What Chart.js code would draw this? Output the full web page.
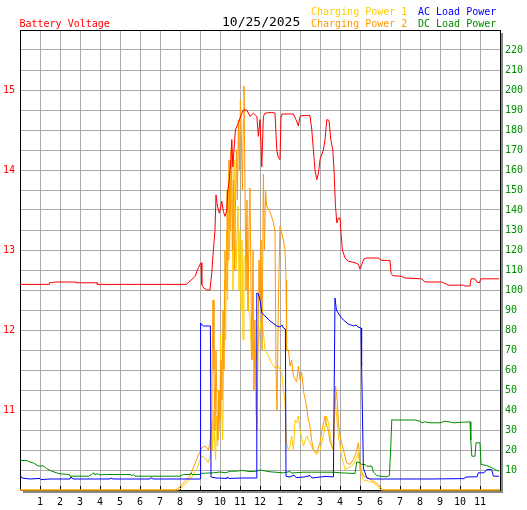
<!DOCTYPE html>
<html>
<head>
<meta charset="utf-8">
<script src="https://cdn.jsdelivr.net/npm/chart.js@4.4.1/dist/chart.umd.min.js"></script>
<style>
  html, body { margin: 0; padding: 0; background: #fff; }
  #wrap { width: 527px; height: 510px; }
</style>
</head>
<body>
<div id="wrap"><canvas id="chart" width="527" height="510"></canvas></div>
<script>
// hour of day -> value
const hourLabels = ['', '1', '2', '3', '4', '5', '6', '7', '8', '9', '10', '11', '12',
    '1', '2', '3', '4', '5', '6', '7', '8', '9', '10', '11', ''];

const batteryVoltage = [[0, 12.57], [1.45, 12.57], [1.47, 12.59], [1.8, 12.6], [2.8, 12.6], [2.82, 12.59],
    [3.85, 12.59], [3.87, 12.57], [8.3, 12.57], [8.5, 12.61], [8.75, 12.67], [8.92, 12.78], [9.05, 12.84],
    [9.09, 12.57], [9.17, 12.53], [9.34, 12.5], [9.5, 12.5], [9.59, 12.72], [9.67, 13.0], [9.75, 13.25],
    [9.8, 13.69], [9.87, 13.55], [9.97, 13.46], [10.09, 13.61], [10.17, 13.48], [10.25, 13.42], [10.34, 13.5],
    [10.39, 13.75], [10.47, 13.88], [10.54, 14.13], [10.59, 14.38], [10.64, 14.04], [10.7, 14.25], [10.77, 14.5],
    [10.92, 14.59], [11.09, 14.71], [11.17, 14.75], [11.34, 14.75], [11.5, 14.67], [11.67, 14.71], [11.84, 14.67],
    [11.92, 14.42], [12.0, 14.63], [12.09, 14.04], [12.17, 14.67], [12.25, 14.71], [12.59, 14.72], [12.75, 14.71],
    [12.84, 14.25], [12.92, 14.15], [13.0, 14.13], [13.05, 14.67], [13.09, 14.7], [13.67, 14.7], [13.8, 14.63],
    [13.92, 14.55], [14.0, 14.67], [14.09, 14.68], [14.5, 14.68], [14.59, 14.5], [14.67, 14.25], [14.75, 14.0],
    [14.84, 13.88], [14.92, 13.96], [15.0, 14.13], [15.17, 14.25], [15.25, 14.38], [15.34, 14.63], [15.45, 14.62],
    [15.54, 14.38], [15.64, 14.25], [15.7, 14.0], [15.77, 13.57], [15.84, 13.34], [15.92, 13.4], [16.0, 13.4],
    [16.05, 13.21], [16.12, 13.0], [16.25, 12.9], [16.42, 12.86], [16.75, 12.84], [16.92, 12.82], [17.0, 12.76],
    [17.09, 12.82], [17.2, 12.89], [17.34, 12.9], [17.92, 12.9], [18.09, 12.87], [18.5, 12.87], [18.55, 12.71],
    [18.64, 12.68], [19.09, 12.67], [19.25, 12.65], [20.09, 12.64], [20.25, 12.6], [21.09, 12.6], [21.42, 12.56],
    [22.17, 12.56], [22.25, 12.55], [22.5, 12.55], [22.55, 12.64], [22.75, 12.64], [22.84, 12.6], [22.97, 12.59],
    [23.04, 12.64], [23.95, 12.64]];

const chargingPower1 = [[0, 0], [7.9, 0], [8.0, 0.5], [8.5, 5.25], [8.83, 10.25], [9.08, 17], [9.25, 16],
    [9.42, 13.6], [9.53, 18.6], [9.58, 35], [9.63, 20], [9.68, 40], [9.73, 25], [9.78, 15], [9.83, 37],
    [9.88, 22], [9.93, 50], [9.98, 30], [10.03, 78], [10.08, 45], [10.13, 25], [10.18, 60], [10.23, 105],
    [10.28, 75], [10.33, 130], [10.38, 95], [10.43, 160], [10.48, 120], [10.55, 170], [10.6, 140], [10.65, 100],
    [10.7, 165], [10.75, 130], [10.8, 110], [10.9, 142], [10.95, 100], [11.0, 130], [11.05, 90], [11.1, 125],
    [11.15, 75], [11.2, 115], [11.33, 120], [11.42, 90], [11.5, 87], [11.58, 65], [11.67, 75], [11.75, 62],
    [11.92, 73.6], [12.08, 87], [12.17, 78.6], [12.25, 70], [12.42, 67], [12.58, 63.6], [12.75, 61], [12.92, 62],
    [13.08, 58.6], [13.25, 43.6], [13.33, 23.6], [13.42, 20], [13.5, 22], [13.58, 27], [13.67, 20], [13.75, 35],
    [13.83, 33.6], [13.92, 37], [14.0, 30], [14.17, 22], [14.33, 27], [14.5, 23.6], [14.67, 20], [14.83, 17.75],
    [15.0, 20], [15.17, 27], [15.33, 37], [15.42, 33.6], [15.58, 23.6], [15.67, 20], [15.75, 47], [15.83, 37],
    [15.92, 27], [16.08, 17], [16.25, 10.25], [16.42, 11], [16.67, 12.75], [16.83, 16], [16.92, 18.6], [17.0, 10],
    [17.17, 5], [17.42, 4.4], [17.67, 3.6], [17.92, 1.6], [18.0, 0.6], [18.05, 0], [24, 0]];

const chargingPower2 = [[0, 0], [7.8, 0], [8.0, 1.7], [8.5, 6.9], [8.83, 15.3], [9.08, 21], [9.25, 22],
    [9.42, 20], [9.5, 23.6], [9.55, 30], [9.6, 55], [9.65, 95], [9.7, 60], [9.75, 30], [9.8, 70], [9.85, 40],
    [9.9, 25], [9.95, 50], [10.0, 35], [10.05, 65], [10.1, 45], [10.15, 90], [10.2, 60], [10.25, 120], [10.3, 100],
    [10.35, 150], [10.4, 115], [10.45, 165], [10.5, 130], [10.58, 171], [10.62, 120], [10.67, 155], [10.72, 110],
    [10.77, 140], [10.82, 170], [10.87, 145], [10.92, 185], [10.97, 160], [11.02, 195], [11.07, 175], [11.12, 150],
    [11.17, 185], [11.2, 202], [11.25, 150], [11.3, 100], [11.35, 145], [11.4, 90], [11.45, 130], [11.5, 151],
    [11.55, 100], [11.6, 65], [11.65, 120], [11.7, 50], [11.75, 85], [11.8, 40], [11.85, 30], [11.9, 70],
    [11.95, 115], [12.0, 95], [12.05, 125], [12.1, 70], [12.17, 158], [12.22, 120], [12.28, 150], [12.33, 142],
    [12.5, 139], [12.67, 134], [12.75, 129], [12.8, 60], [12.85, 40], [12.92, 95], [13.0, 132], [13.17, 125],
    [13.25, 120], [13.3, 105], [13.33, 70], [13.42, 70], [13.5, 62], [13.58, 65], [13.67, 57], [13.83, 54],
    [13.92, 62], [14.0, 55], [14.08, 59], [14.2, 48], [14.33, 42], [14.42, 35], [14.5, 32], [14.58, 25], [14.67, 20],
    [14.83, 18.6], [15.0, 23.6], [15.1, 30], [15.25, 37], [15.33, 32], [15.42, 30], [15.5, 24], [15.67, 20],
    [15.78, 52], [15.87, 43.6], [15.92, 33.6], [16.0, 27], [16.17, 20], [16.33, 13.6], [16.5, 12.75],
    [16.67, 15.25], [16.83, 19.4], [16.92, 23.6], [17.0, 13.6], [17.08, 9.4], [17.17, 6.9], [17.42, 6.1],
    [17.67, 4.4], [17.92, 2.75], [18.08, 0.6], [18.15, 0], [24, 0]];

const acLoadPower = [[0, 7.5], [0.1, 6], [0.5, 5.5], [1.0, 5.8], [1.05, 5.2], [1.5, 5.5], [2.5, 5.5], [2.55, 6.5],
    [2.65, 5.5], [4.5, 5.5], [4.55, 6], [4.65, 5.5], [6.5, 5.5], [6.55, 6.2], [6.65, 5.5], [9.0, 5.5], [9.03, 83.5],
    [9.1, 82.5], [9.17, 82], [9.52, 82], [9.55, 6.5], [9.8, 6], [10.3, 5.8], [10.35, 6.5], [10.45, 5.8], [11.2, 6],
    [11.8, 6], [11.84, 98.5], [11.92, 98], [12.0, 95], [12.09, 88.5], [12.25, 87], [12.5, 84.5], [12.84, 82],
    [13.0, 81.5], [13.1, 82.5], [13.17, 81], [13.27, 80.5], [13.3, 6.9], [13.5, 6.5], [13.7, 7.5], [13.8, 6.2],
    [14.2, 6.5], [14.5, 7.2], [14.6, 6], [15.0, 6.5], [15.3, 6.8], [15.67, 6.5], [15.75, 96], [15.82, 90],
    [16.0, 87], [16.17, 85], [16.42, 83], [16.67, 82], [16.8, 82.5], [16.9, 81.5], [17.05, 81], [17.08, 62],
    [17.17, 11], [17.34, 6], [17.5, 5.5], [20.5, 5.5], [22.2, 5.7], [22.3, 6.5], [22.85, 6.6], [22.92, 8.6],
    [23.2, 8.6], [23.33, 10.2], [23.58, 10.2], [23.67, 6.9], [23.95, 6.9]];

const dcLoadPower = [[0, 14.75], [0.33, 14.75], [0.5, 14], [0.67, 13.5], [0.92, 12], [1.17, 12], [1.33, 10.75],
    [1.58, 9.4], [1.83, 8.6], [2.0, 8.1], [2.47, 7.75], [2.5, 6.9], [3.42, 6.9], [3.58, 7.75], [3.7, 8.6],
    [3.75, 7.5], [3.85, 8.2], [4.0, 7.6], [4.33, 7.75], [5.5, 7.75], [5.6, 7.2], [5.67, 7.75], [5.75, 6.9],
    [8.0, 6.9], [8.17, 7.75], [8.5, 7.75], [8.55, 8.6], [8.6, 7.75], [9.0, 7.75], [9.03, 8.3], [9.67, 8.6],
    [10.0, 9], [10.3, 8.6], [10.5, 9.4], [10.83, 9.4], [11.1, 9.8], [11.5, 9.2], [11.83, 9.4], [12.0, 10],
    [12.5, 9.1], [13.17, 8.6], [13.5, 9.2], [13.6, 8.5], [14.17, 8.9], [15.67, 8.9], [16.0, 8.6], [16.75, 8.25],
    [16.84, 14.1], [17.0, 13.6], [17.09, 12.75], [17.25, 12.75], [17.34, 11.9], [17.59, 11.9], [17.67, 8.9],
    [17.84, 7.25], [18.0, 6.9], [18.34, 6.6], [18.47, 7.25], [18.54, 22], [18.59, 35.25], [18.64, 35],
    [19.75, 35], [20.0, 34.4], [20.09, 33.6], [20.25, 34.1], [20.5, 33.6], [21.0, 33.6], [21.25, 34.4],
    [21.5, 34], [21.67, 33.6], [22.5, 34.1], [22.54, 25], [22.59, 16.9], [22.75, 16.9], [22.8, 23.6],
    [23.0, 23.6], [23.05, 12.75], [23.34, 12.25], [23.59, 11.1], [23.75, 10.25], [23.95, 9.4]];

const RED = '#ff0000', GOLD = '#ffcc00', ORANGE = '#ff9900', BLUE = '#0000ff', GREEN = '#008c00';
const GRID = '#aaaaaa';
const MONO = "'DejaVu Sans Mono', monospace";

function pts(arr) {
    return arr.map(p => ({x: p[0], y: p[1]}));
}

function serie(label, arr, color, axis, order) {
    return {
        label: label,
        data: pts(arr),
        borderColor: color,
        borderWidth: 1,
        pointRadius: 0,
        fill: false,
        tension: 0,
        yAxisID: axis,
        order: order,
        clip: false
    };
}

// frame, shadow, small hour ticks and the header texts
const framePlugin = {
    id: 'frame',
    beforeDraw(chart) {
        const {ctx, chartArea: a} = chart;
        ctx.save();
        ctx.fillStyle = '#fff';
        ctx.fillRect(0, 0, chart.width, chart.height);
        ctx.fillStyle = '#888';
        ctx.fillRect(a.right + 1, a.top + 3, 2, a.bottom - a.top);
        ctx.fillRect(a.left + 3, a.bottom + 1, a.right - a.left, 2);
        ctx.restore();
    },
    beforeDatasetsDraw(chart) {
        const {ctx, chartArea: a, scales} = chart;
        ctx.save();
        ctx.strokeStyle = '#000';
        ctx.lineWidth = 1;
        ctx.beginPath();
        ctx.moveTo(a.left, a.top + 0.5);
        ctx.lineTo(a.right + 1, a.top + 0.5);
        for (let h = 1; h < 24; h++) {
            const x = Math.round(scales.x.getPixelForValue(h)) + 0.5;
            ctx.moveTo(x, a.bottom);
            ctx.lineTo(x, a.bottom - 4);
        }
        ctx.stroke();
        ctx.restore();
    },
    afterDraw(chart) {
        const ctx = chart.ctx;
        ctx.save();
        ctx.textBaseline = 'alphabetic';
        ctx.textAlign = 'left';
        ctx.font = '10px ' + MONO;
        ctx.fillStyle = RED;
        ctx.fillText('Battery Voltage', 19.5, 26.5);
        ctx.fillStyle = GOLD;
        ctx.fillText('Charging Power 1', 311, 15);
        ctx.fillStyle = ORANGE;
        ctx.fillText('Charging Power 2', 311, 26.5);
        ctx.fillStyle = BLUE;
        ctx.fillText('AC Load Power', 418, 15);
        ctx.fillStyle = GREEN;
        ctx.fillText('DC Load Power', 418, 26.5);
        ctx.font = '13px ' + MONO;
        ctx.fillStyle = '#000';
        ctx.fillText('10/25/2025', 222, 25.5);
        ctx.restore();
    }
};

Chart.defaults.font.family = MONO;
Chart.defaults.font.size = 10;

new Chart(document.getElementById('chart'), {
    type: 'line',
    data: {
        datasets: [
            serie('Battery Voltage', batteryVoltage, RED, 'y', 0),
            serie('AC Load Power', acLoadPower, BLUE, 'y2', 1),
            serie('DC Load Power', dcLoadPower, GREEN, 'y2', 2),
            serie('Charging Power 2', chargingPower2, ORANGE, 'y2', 3),
            serie('Charging Power 1', chargingPower1, GOLD, 'y2', 4)
        ]
    },
    options: {
        responsive: false,
        animation: false,
        devicePixelRatio: 1,
        layout: {padding: {top: 30, left: 0, right: 0, bottom: 0}},
        plugins: {legend: {display: false}, tooltip: {enabled: false}},
        scales: {
            x: {
                type: 'linear',
                min: 0,
                max: 24,
                afterFit: s => { s.height = 20; },
                ticks: {
                    stepSize: 1,
                    autoSkip: false,
                    maxRotation: 0,
                    color: '#000',
                    padding: 6,
                    callback: v => hourLabels[v] ? hourLabels[v] : null
                },
                grid: {color: GRID, drawTicks: false},
                border: {color: '#000', width: 1}
            },
            y: {
                position: 'left',
                min: 10,
                max: 15.75,
                afterFit: s => { s.width = 20; },
                ticks: {
                    stepSize: 0.25,
                    autoSkip: false,
                    color: RED,
                    padding: 5,
                    callback: v => (v > 10 && v < 15.75 && Number.isInteger(v)) ? String(v) : null
                },
                grid: {display: false, drawTicks: false},
                border: {color: '#000', width: 1}
            },
            y2: {
                position: 'right',
                min: 0,
                max: 230,
                afterFit: s => { s.width = 27; },
                ticks: {
                    stepSize: 10,
                    autoSkip: false,
                    color: GREEN,
                    padding: 5,
                    callback: v => (v > 0 && v < 230) ? String(v) : null
                },
                grid: {color: GRID, drawTicks: false},
                border: {color: '#000', width: 1}
            }
        }
    },
    plugins: [framePlugin]
});
</script>
</body>
</html>
